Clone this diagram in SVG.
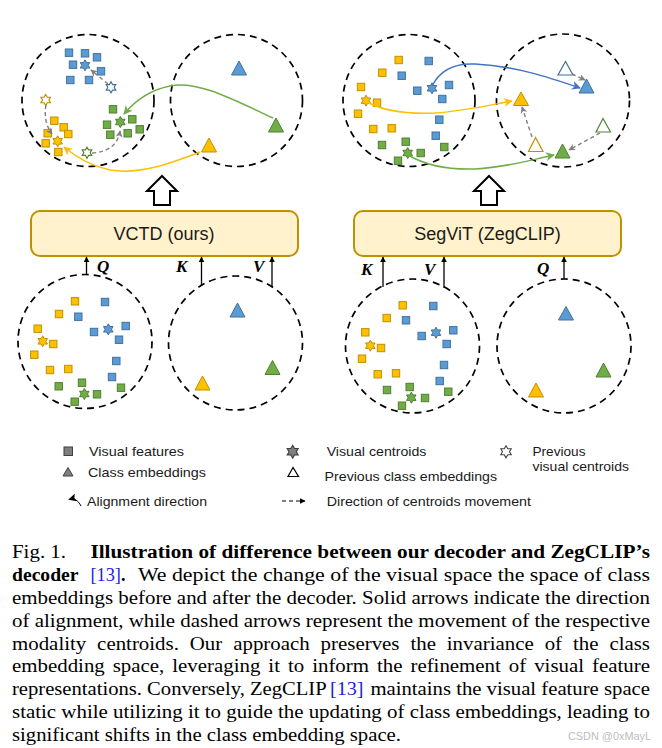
<svg xmlns="http://www.w3.org/2000/svg" xmlns:xlink="http://www.w3.org/1999/xlink" width="662" height="748" viewBox="0 0 662 748">
<style>
.dc{fill:none;stroke:#000;stroke-width:1.7;stroke-dasharray:7 5}
.b{fill:#5B9BD5;stroke:#41719C;stroke-width:1}
.y{fill:#FFC000;stroke:#BF9000;stroke-width:1}
.g{fill:#70AD47;stroke:#507E32;stroke-width:1}
.bh{fill:#fff;stroke:#41719C;stroke-width:1.2}
.yh{fill:#fff;stroke:#BF9000;stroke-width:1.2}
.gh{fill:#fff;stroke:#548235;stroke-width:1.2}
.gd{fill:none;stroke:#7F7F7F;stroke-width:1.4;stroke-dasharray:4 3}
.sa{fill:none;stroke-width:1.5}
.qa{fill:none;stroke:#000;stroke-width:1.3}
.box{fill:#FFF2CC;stroke:#BF9000;stroke-width:2}
.ha{fill:#fff;stroke:#000;stroke-width:2;stroke-linejoin:miter}
.bt{font-family:"Liberation Sans",Arial,sans-serif;font-size:18px;fill:#1a1a1a;text-anchor:middle}
.lb{font-family:"Liberation Serif","Times New Roman",serif;font-size:17px;font-weight:bold;font-style:italic;fill:#000}
.lg{font-family:"Liberation Sans",Arial,sans-serif;font-size:13px;fill:#1a1a1a}
.cp{font-family:"Liberation Serif","Times New Roman",serif;font-size:18px;fill:#000}
.cpb{font-family:"Liberation Serif","Times New Roman",serif;font-size:18px;font-weight:bold;fill:#000}
.ref{font-family:"Liberation Serif","Times New Roman",serif;font-size:18px;fill:#2020E0}
</style>
<defs>
<rect id="sq" x="-3.7" y="-3.7" width="7.4" height="7.4"/>
<path id="st" d="M0,-5.5 L1.59,-2.75 L4.76,-2.75 L3.18,0 L4.76,2.75 L1.59,2.75 L0,5.5 L-1.59,2.75 L-4.76,2.75 L-3.18,0 L-4.76,-2.75 L-1.59,-2.75 Z"/>
<marker id="mg" viewBox="0 0 10 10" refX="9" refY="5" markerWidth="9" markerHeight="9" markerUnits="userSpaceOnUse" orient="auto"><path d="M0,0 L10,5 L0,10 L3,5 Z" fill="#70AD47"/></marker>
<marker id="my" viewBox="0 0 10 10" refX="9" refY="5" markerWidth="9" markerHeight="9" markerUnits="userSpaceOnUse" orient="auto"><path d="M0,0 L10,5 L0,10 L3,5 Z" fill="#FFC000"/></marker>
<marker id="mb" viewBox="0 0 10 10" refX="9" refY="5" markerWidth="9" markerHeight="9" markerUnits="userSpaceOnUse" orient="auto"><path d="M0,0 L10,5 L0,10 L3,5 Z" fill="#4472C4"/></marker>
<marker id="mx" viewBox="0 0 10 10" refX="9" refY="5" markerWidth="7" markerHeight="7" markerUnits="userSpaceOnUse" orient="auto"><path d="M0,0 L10,5 L0,10 L3,5 Z" fill="#7F7F7F"/></marker>
<marker id="mk" viewBox="0 0 10 10" refX="9" refY="5" markerWidth="6" markerHeight="6" markerUnits="userSpaceOnUse" orient="auto"><path d="M0,0 L10,5 L0,10 Z" fill="#000"/></marker>
<marker id="ml" viewBox="0 0 10 10" refX="9" refY="5" markerWidth="6" markerHeight="6" markerUnits="userSpaceOnUse" orient="auto"><path d="M0,0 L10,5 L0,10 Z" fill="#000"/></marker>
<marker id="ma" viewBox="0 0 10 10" refX="9" refY="5" markerWidth="8" markerHeight="8" markerUnits="userSpaceOnUse" orient="auto"><path d="M0,0 L10,5 L0,10 L2,5 Z" fill="#000"/></marker>
</defs>
<rect width="662" height="748" fill="#fff"/>

<!-- Top-left: visual space after VCTD -->
<g id="tl-visual">
<circle class="dc" cx="88" cy="100.5" r="66"/>
<use href="#sq" class="b" x="69" y="52.7"/><use href="#sq" class="b" x="85" y="53.3"/><use href="#sq" class="b" x="97" y="57.3"/><use href="#sq" class="b" x="73" y="64.7"/><use href="#sq" class="b" x="101" y="71.3"/><use href="#sq" class="b" x="70.3" y="80"/><use href="#sq" class="b" x="89" y="80"/>
<use href="#st" class="b" x="85" y="65.3"/><use href="#st" class="bh" x="111" y="87.3"/>
<use href="#sq" class="y" x="54.3" y="120.7"/><use href="#sq" class="y" x="63.7" y="127.3"/><use href="#sq" class="y" x="47.7" y="133.3"/><use href="#sq" class="y" x="68.3" y="134"/><use href="#sq" class="y" x="45.7" y="143.3"/><use href="#sq" class="y" x="58.3" y="152"/>
<use href="#st" class="y" x="57.7" y="141.3"/><use href="#st" class="yh" x="45.7" y="100"/>
<use href="#sq" class="g" x="113" y="109.3"/><use href="#sq" class="g" x="132.3" y="119.3"/><use href="#sq" class="g" x="107" y="124.7"/><use href="#sq" class="g" x="139.7" y="129.3"/><use href="#sq" class="g" x="110.3" y="134.7"/><use href="#sq" class="g" x="127.7" y="133.3"/>
<use href="#st" class="g" x="120.3" y="122"/><use href="#st" class="gh" x="87" y="152.7"/>
</g>
<!-- Top-left: class space (unchanged) -->
<g id="tl-class">
<circle class="dc" cx="236.5" cy="100.5" r="66"/>
<polygon class="b" points="239,61 231.5,75 246.5,75"/>
<polygon class="g" points="276,118 268.5,132 283.5,132"/>
<polygon class="y" points="209,138 201.5,152 216.5,152"/>
</g>
<!-- Top-right: visual space after SegViT -->
<g id="tr-visual">
<circle class="dc" cx="409" cy="100.5" r="66"/>
<use href="#sq" class="y" x="398.7" y="60"/><use href="#sq" class="y" x="382.3" y="72.7"/><use href="#sq" class="y" x="361" y="87"/><use href="#sq" class="y" x="377" y="102.7"/><use href="#sq" class="y" x="358" y="113.7"/><use href="#sq" class="y" x="373.3" y="129"/><use href="#sq" class="y" x="391.7" y="128.3"/>
<use href="#st" class="y" x="366" y="100.7"/>
<use href="#sq" class="b" x="428.7" y="61"/><use href="#sq" class="b" x="401.7" y="75.7"/><use href="#sq" class="b" x="417.3" y="90.7"/><use href="#sq" class="b" x="449" y="85"/><use href="#sq" class="b" x="442.3" y="99"/><use href="#sq" class="b" x="439.3" y="119.7"/><use href="#sq" class="b" x="435.7" y="135.7"/>
<use href="#st" class="b" x="432" y="88.3"/>
<use href="#sq" class="g" x="382" y="145"/><use href="#sq" class="g" x="405.7" y="141.7"/><use href="#sq" class="g" x="420.7" y="153"/><use href="#sq" class="g" x="444.3" y="147"/><use href="#sq" class="g" x="398" y="160.7"/>
<use href="#st" class="g" x="407.7" y="153"/>
</g>
<!-- Top-right: class space (shifted) -->
<g id="tr-class">
<circle class="dc" cx="563" cy="100.5" r="66.5"/>
<polygon class="bh" points="565.5,61.5 558,75 573,75"/>
<polygon class="b" points="586.5,79 579,93 594,93"/>
<polygon class="y" points="521,92 513.5,105.5 528.5,105.5"/>
<polygon class="yh" points="535.5,137.5 528.5,151.5 543,151.5"/>
<polygon class="gh" points="603,118.5 596,132 610.5,132"/>
<polygon class="g" points="562.5,144 555,158 570,158"/>
</g>

<!-- Decoder boxes -->
<g id="vctd">
<rect class="box" x="31" y="211" width="267" height="45" rx="9"/>
<text class="bt" x="164" y="239.5">VCTD (ours)</text>
</g>
<g id="segvit">
<rect class="box" x="354" y="211" width="267" height="45" rx="9"/>
<text class="bt" x="487.5" y="239.5">SegViT (ZegCLIP)</text>
</g>

<!-- Bottom-left: inputs -->
<g id="bl-visual">
<circle class="dc" cx="85" cy="341.5" r="67"/>
<use href="#sq" class="y" x="75" y="301.3"/><use href="#sq" class="y" x="59" y="314"/><use href="#sq" class="y" x="37.7" y="328.7"/><use href="#sq" class="y" x="53.3" y="344"/><use href="#sq" class="y" x="34.3" y="354.7"/><use href="#sq" class="y" x="50" y="370"/><use href="#sq" class="y" x="68.3" y="369"/>
<use href="#st" class="y" x="42.7" y="341.3"/>
<use href="#sq" class="b" x="105" y="302"/><use href="#sq" class="b" x="78.3" y="316.7"/><use href="#sq" class="b" x="94" y="332"/><use href="#sq" class="b" x="125.7" y="326"/><use href="#sq" class="b" x="119" y="339.7"/><use href="#sq" class="b" x="116.3" y="361"/><use href="#sq" class="b" x="112" y="377"/>
<use href="#st" class="b" x="108.3" y="329.3"/>
<use href="#sq" class="g" x="58.7" y="386.3"/><use href="#sq" class="g" x="82" y="382.7"/><use href="#sq" class="g" x="97" y="394.3"/><use href="#sq" class="g" x="121" y="387.7"/><use href="#sq" class="g" x="74.7" y="401.7"/>
<use href="#st" class="g" x="84.3" y="394"/>
</g>
<g id="bl-class">
<circle class="dc" cx="235.5" cy="343" r="67"/>
<polygon class="b" points="237.5,303 230,317 245,317"/>
<polygon class="g" points="272.5,360.5 265,374.5 280,374.5"/>
<polygon class="y" points="202.5,376 195,390 210,390"/>
</g>
<!-- Bottom-right: inputs -->
<g id="br-visual">
<circle class="dc" cx="412.5" cy="346" r="67"/>
<use href="#sq" class="y" x="402.7" y="305.3"/><use href="#sq" class="y" x="386.7" y="318"/><use href="#sq" class="y" x="365.3" y="332.3"/><use href="#sq" class="y" x="381" y="348"/><use href="#sq" class="y" x="362" y="358.7"/><use href="#sq" class="y" x="377.7" y="374.3"/><use href="#sq" class="y" x="396" y="373.3"/>
<use href="#st" class="y" x="370.3" y="345.7"/>
<use href="#sq" class="b" x="433.3" y="306"/><use href="#sq" class="b" x="406" y="320.3"/><use href="#sq" class="b" x="421.7" y="336"/><use href="#sq" class="b" x="453.3" y="330.3"/><use href="#sq" class="b" x="446.7" y="344"/><use href="#sq" class="b" x="444" y="365"/><use href="#sq" class="b" x="439.7" y="381"/>
<use href="#st" class="b" x="436" y="332.7"/>
<use href="#sq" class="g" x="387" y="390"/><use href="#sq" class="g" x="409.7" y="387"/><use href="#sq" class="g" x="425" y="398"/><use href="#sq" class="g" x="448.3" y="391.7"/><use href="#sq" class="g" x="402" y="405.7"/>
<use href="#st" class="g" x="411.3" y="397.7"/>
</g>
<g id="br-class">
<circle class="dc" cx="564" cy="346" r="67"/>
<polygon class="b" points="566,306.5 558.5,320 573.5,320"/>
<polygon class="g" points="603.5,363 596,377 611,377"/>
<polygon class="y" points="536,383 528.5,397 543.5,397"/>
</g>

<!-- Connectors -->
<g id="connectors">
<path class="sa" stroke="#70AD47" marker-end="url(#mg)" d="M273,118 C232,99 197,80 170,86 C150,90 134,102 124,114"/>
<path class="sa" stroke="#FFC000" marker-end="url(#my)" d="M200,152 C172,163 140,175 110,170 C90,166 76,157 64,147"/>
<path class="sa" stroke="#4472C4" marker-end="url(#mb)" d="M432,86 C440,70 455,63 475,64 C515,66 548,77 580,88"/>
<path class="sa" stroke="#FFC000" marker-end="url(#my)" d="M367,102 C385,112 410,114 435,113 C465,111 490,105 512,101"/>
<path class="sa" stroke="#70AD47" marker-end="url(#mg)" d="M408,155 C425,165 445,170 475,169 C510,167 530,160 554,155"/>
<path class="gd" marker-end="url(#mx)" d="M108,84 L91,70"/>
<path class="gd" marker-end="url(#mx)" d="M46,105 C44,116 46,126 52,134"/>
<path class="gd" marker-end="url(#mx)" d="M92,153 C108,152 118,145 120,131"/>
<path class="gd" marker-end="url(#mx)" d="M572,74 L585,80"/>
<path class="gd" marker-end="url(#mx)" d="M532,137 L522,107"/>
<path class="gd" marker-end="url(#mx)" d="M600,133 L569,150"/>
<polygon class="ha" points="162,176 177,191 170,191 170,205 154,205 154,191 147,191"/>
<polygon class="ha" points="489,176 504,191 497,191 497,205 481,205 481,191 474,191"/>
<path class="qa" marker-end="url(#mk)" d="M86.5,275 L86.5,257"/>
<path class="qa" marker-end="url(#mk)" d="M201.5,286 L201.5,257"/>
<path class="qa" marker-end="url(#mk)" d="M272,287 L272,257"/>
<path class="qa" marker-end="url(#mk)" d="M383,287 L383,257"/>
<path class="qa" marker-end="url(#mk)" d="M444,288 L444,257"/>
<path class="qa" marker-end="url(#mk)" d="M564,279 L564,257"/>
</g>
<g id="qkv-labels">
<text class="lb" x="97" y="272">Q</text>
<text class="lb" x="176" y="272">K</text>
<text class="lb" x="253" y="272">V</text>
<text class="lb" x="361" y="275">K</text>
<text class="lb" x="424" y="275">V</text>
<text class="lb" x="537" y="274">Q</text>
</g>

<!-- Legend -->
<g id="legend">
<rect x="64" y="447" width="8.5" height="8.5" fill="#7F7F7F" stroke="#404040" stroke-width="1"/>
<text class="lg" x="89" y="455.5" textLength="95" lengthAdjust="spacingAndGlyphs">Visual features</text>
<polygon points="68,467.5 63,476 73,476" fill="#7F7F7F" stroke="#404040" stroke-width="1"/>
<text class="lg" x="88" y="477" textLength="118" lengthAdjust="spacingAndGlyphs">Class embeddings</text>
<path d="M81,506 C78,500 74,498 69,499.5" fill="none" stroke="#000" stroke-width="1" marker-end="url(#ma)"/>
<text class="lg" x="87" y="505.5" textLength="120" lengthAdjust="spacingAndGlyphs">Alignment direction</text>
<use href="#st" transform="translate(292.7,451.7) scale(1.15)" fill="#7F7F7F" stroke="#404040" stroke-width="1"/>
<text class="lg" x="326.7" y="456" textLength="99.7" lengthAdjust="spacingAndGlyphs">Visual centroids</text>
<polygon points="293,467.5 288,476.5 298.5,476.5" fill="#fff" stroke="#000" stroke-width="1.2"/>
<text class="lg" x="324.6" y="480.5" textLength="172.4" lengthAdjust="spacingAndGlyphs">Previous class embeddings</text>
<path d="M282,501 L305,501" fill="none" stroke="#000" stroke-width="1.2" stroke-dasharray="4 3" marker-end="url(#ml)"/>
<text class="lg" x="326.7" y="505.5" textLength="204.3" lengthAdjust="spacingAndGlyphs">Direction of centroids movement</text>
<use href="#st" transform="translate(506,451.8) scale(1.1)" fill="#fff" stroke="#404040" stroke-width="1"/>
<text class="lg" x="532.5" y="455.5" textLength="53" lengthAdjust="spacingAndGlyphs">Previous</text>
<text class="lg" x="532.5" y="470.5" textLength="96.5" lengthAdjust="spacingAndGlyphs">visual centroids</text>
</g>

<!-- Caption -->
<g id="caption">
<text class="cp" x="12" y="558" textLength="54" lengthAdjust="spacingAndGlyphs">Fig. 1.</text>
<text class="cpb" x="90.4" y="558" textLength="559.6" lengthAdjust="spacingAndGlyphs">Illustration of difference between our decoder and ZegCLIP’s</text>
<text class="cpb" x="12" y="581" textLength="66.5" lengthAdjust="spacingAndGlyphs">decoder</text>
<text class="ref" x="90.4" y="581" textLength="30.6" lengthAdjust="spacingAndGlyphs">[13]</text>
<text class="cpb" x="121" y="581">.</text>
<text class="cp" x="137.9" y="581" textLength="512.1" lengthAdjust="spacingAndGlyphs">We depict the change of the visual space the space of class</text>
<text class="cp" x="12" y="603.8" textLength="638" lengthAdjust="spacingAndGlyphs">embeddings before and after the decoder. Solid arrows indicate the direction</text>
<text class="cp" x="12" y="626.6" textLength="638" lengthAdjust="spacingAndGlyphs">of alignment, while dashed arrows represent the movement of the respective</text>
<text class="cp" transform="translate(12,649.5) scale(1.16,1)" word-spacing="4.9" textLength="550" lengthAdjust="spacing">modality centroids. Our approach preserves the invariance of the class</text>
<text class="cp" transform="translate(12,672.4) scale(1.16,1)" word-spacing="2.36" textLength="550" lengthAdjust="spacing">embedding space, leveraging it to inform the refinement of visual feature</text>
<text class="cp" x="12" y="695.3" textLength="314.7" lengthAdjust="spacingAndGlyphs">representations. Conversely, ZegCLIP</text>
<text class="ref" x="330" y="695.3" textLength="33.6" lengthAdjust="spacingAndGlyphs">[13]</text>
<text class="cp" x="370.4" y="695.3" textLength="279.6" lengthAdjust="spacingAndGlyphs">maintains the visual feature space</text>
<text class="cp" x="12" y="718.1" textLength="638" lengthAdjust="spacingAndGlyphs">static while utilizing it to guide the updating of class embeddings, leading to</text>
<text class="cp" x="12" y="741" textLength="389" lengthAdjust="spacingAndGlyphs">significant shifts in the class embedding space.</text>
<text x="568" y="740" font-family="Liberation Sans,Arial,sans-serif" font-size="11" fill="#BDBDBD" textLength="83" lengthAdjust="spacingAndGlyphs">CSDN @0xMayL</text>
</g>
</svg>
